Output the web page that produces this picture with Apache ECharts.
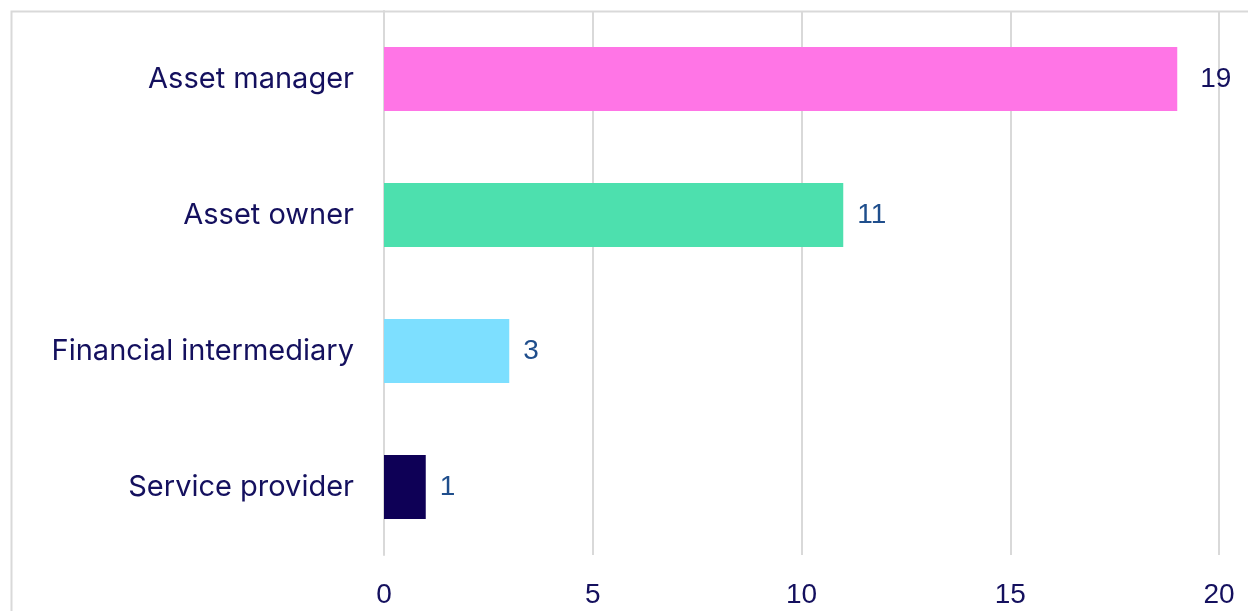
<!DOCTYPE html>
<html>
<head>
<meta charset="utf-8">
<script src="https://cdn.jsdelivr.net/npm/echarts@6/dist/echarts.min.js"></script>
<style>
    html, body { margin: 0; padding: 0; background: #ffffff; }
    #chart { width: 1248px; height: 611px; }
</style>
</head>
<body>
<div id="chart"></div>
<script>
const categories = ["Asset manager", "Asset owner", "Financial intermediary", "Service provider"];
const counts = [19, 11, 3, 1];
const barColors = ["#ff75e6", "#4de0ae", "#7ddfff", "#0e0056"];
const labelColors = ["#14105e", "#1f4e8c", "#1f4e8c", "#1f4e8c"];
const xTicks = [0, 5, 10, 15, 20];

const FONT = "Inter, 'Noto Sans', sans-serif";
const NUM_FONT = "'Liberation Sans', Arial, sans-serif";
const chart = echarts.init(document.getElementById("chart"));

const data = counts.map((value, i) => ({
    value,
    itemStyle: { color: barColors[i] },
    label: {
        color: labelColors[i],
        distance: i === 0 ? 23 : 14
    }
}));

chart.setOption({
    animation: false,
    grid: {
        top: 11,
        right: 29,
        bottom: 56,
        left: 384
    },
    xAxis: {
        type: "value",
        min: xTicks[0],
        max: xTicks[xTicks.length - 1],
        interval: 5,
        axisLine: { show: false },
        axisTick: { show: false },
        axisLabel: {
            color: "#14105e",
            fontSize: 28,
            fontFamily: NUM_FONT,
            margin: 26
        },
        splitLine: {
            lineStyle: { color: "#d9d9d9", width: 2 }
        }
    },
    yAxis: {
        type: "category",
        inverse: true,
        data: categories,
        axisLine: {
            lineStyle: { color: "#d9d9d9", width: 2 }
        },
        axisTick: {
            length: 9,
            lineStyle: { color: "#d9d9d9", width: 2 }
        },
        axisLabel: {
            color: "#14105e",
            fontSize: 29,
            fontFamily: FONT,
            margin: 30
        }
    },
    series: [{
        type: "bar",
        data,
        barWidth: "47%",
        label: {
            show: true,
            position: "right",
            fontSize: 28,
            fontFamily: NUM_FONT
        }
    }],
    graphic: [{
        type: "rect",
        silent: true,
        shape: { x: 11.5, y: 11.5, width: 1400, height: 800 },
        style: { fill: "none", stroke: "#d9d9d9", lineWidth: 2 }
    }]
});
</script>
</body>
</html>
